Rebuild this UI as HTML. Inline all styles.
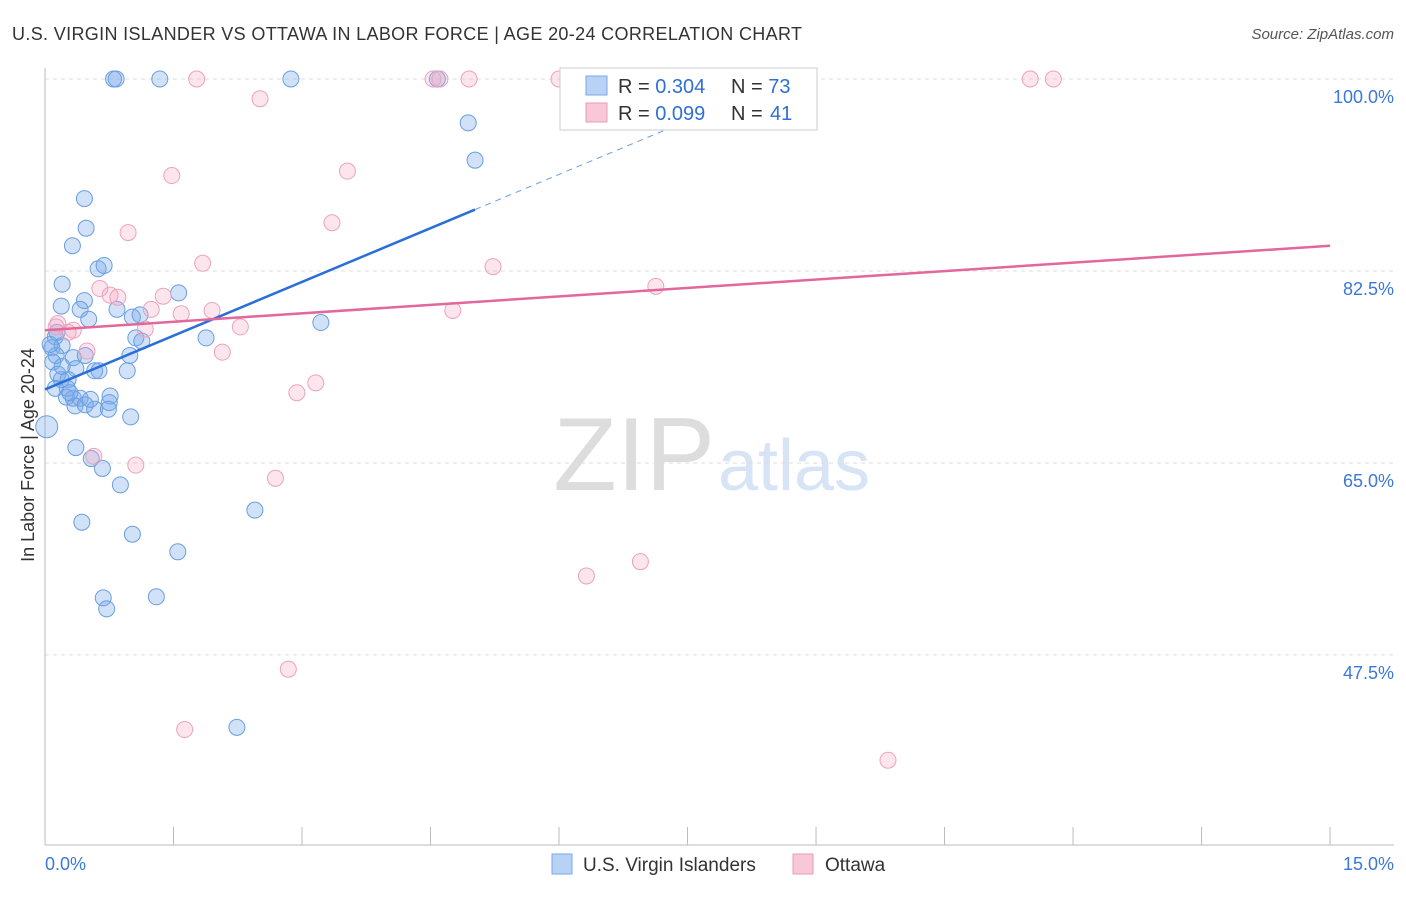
<!DOCTYPE html>
<html><head><meta charset="utf-8"><style>
body{margin:0;background:#fff;font-family:"Liberation Sans",sans-serif;}
svg text{font-family:"Liberation Sans",sans-serif;}
</style></head><body>
<svg id="c" width="1406" height="892">
<text x="12" y="40" font-size="18" fill="#333" textLength="790">U.S. VIRGIN ISLANDER VS OTTAWA IN LABOR FORCE | AGE 20-24 CORRELATION CHART</text>
<text x="1394" y="39" font-size="15" fill="#555" font-style="italic" text-anchor="end">Source: ZipAtlas.com</text>
<text x="715" y="490" font-size="104" fill="#ddd" text-anchor="end" font-family="Liberation Serif">ZIP</text>
<text x="718" y="490" font-size="72" fill="#d6e4f5">atlas</text>
<text transform="translate(34,455) rotate(-90)" font-size="18" fill="#333" text-anchor="middle">In Labor Force | Age 20-24</text>
<g id="grid"></g><g id="pts"></g><g id="lines"></g>
<rect x="560" y="68" width="257" height="62" fill="#fff" stroke="#ccc"/>
<rect x="586" y="76" width="21" height="19" fill="#b7d2f5" stroke="#7aa8e6"/>
<rect x="586" y="103" width="21" height="19" fill="#f8c8d8" stroke="#ea99b5"/>
<text x="618" y="93" font-size="20" fill="#333">R = <tspan fill="#2f6fd6">0.304</tspan></text>
<text x="731" y="93" font-size="20" fill="#333">N = <tspan fill="#2f6fd6">73</tspan></text>
<text x="618" y="120" font-size="20" fill="#333">R = <tspan fill="#2f6fd6">0.099</tspan></text>
<text x="731" y="120" font-size="20" fill="#333">N = <tspan fill="#2f6fd6" x="770">41</tspan></text>
<rect x="552" y="854" width="20" height="20" fill="#b7d2f5" stroke="#7aa8e6"/>
<text x="583" y="871" font-size="19" fill="#333">U.S. Virgin Islanders</text>
<rect x="793" y="854" width="20" height="20" fill="#f8c8d8" stroke="#ea99b5"/>
<text x="825" y="871" font-size="19" fill="#333">Ottawa</text>
<text x="45" y="870" font-size="18" fill="#3b78d8">0.0%</text>
<text x="1394" y="870" font-size="18" fill="#3b78d8" text-anchor="end">15.0%</text>
</svg>
<script>
const yTicks=[100,82.5,65,47.5];
const blueX=[0.8,0.83,1.34,2.87,4.58,4.94,5.02,0.46,0.48,0.32,0.62,0.69,0.2,1.56,0.19,0.46,0.41,0.51,0.84,1.02,1.11,3.22,1.88,1.06,1.13,0.12,0.08,0.2,0.13,0.33,0.47,0.99,0.09,0.36,0.58,0.63,0.96,0.15,0.19,0.27,0.12,0.26,0.25,0.33,0.41,0.76,0.75,0.35,0.47,0.58,0.74,1.0,0.02,0.36,0.54,0.67,0.88,0.43,1.02,2.45,1.55,0.68,0.72,1.3,2.24,0.14,0.06,0.2,0.29,0.53];
const blueY=[100,100,100,100,100,96,92.6,89.1,86.4,84.8,82.7,83,81.3,80.5,79.3,79.8,79,78.1,79,78.3,78.5,77.8,76.4,76.4,76.1,76.5,75.5,75.7,74.8,74.6,74.8,74.8,74.2,73.6,73.4,73.4,73.4,73.1,72.6,72.6,71.8,71.8,71,70.9,70.9,71.1,70.5,70.2,70.3,69.9,69.9,69.2,68.3,66.4,65.4,64.5,63,59.6,58.5,60.7,56.9,52.7,51.7,52.8,40.9,76.9,75.8,73.8,71.4,70.8];
const pinkX=[1.77,4.53,4.61,4.95,6.0,11.5,11.77,2.51,1.48,3.53,0.97,3.35,1.84,5.23,7.13,0.64,0.76,0.85,1.38,1.24,1.59,1.95,4.76,0.15,0.33,1.17,2.28,0.27,0.13,0.49,2.07,3.16,2.94,0.57,1.06,2.69,6.32,6.95,2.84,1.63,9.84];
const pinkY=[100,100,100,100,100,100,100,98.2,91.2,91.6,86,86.9,83.2,82.9,81.1,80.9,80.3,80.1,80.2,79,78.6,78.9,78.9,77.7,77.1,77.2,77.4,76.9,77.4,75.2,75.1,72.3,71.4,65.6,64.8,63.6,54.7,56,46.2,40.7,37.9];
const blueFit=[71.7,88.1], blueFitX=[0,5.02], blueDashX=[5.02,7.65];
const pinkFit=[77.1,84.8], pinkFitX=[0,15];
const NS="http://www.w3.org/2000/svg";
const X=v=>45+v*85.67, Y=v=>79+(100-v)*10.97;
function mk(t,a,p){const e=document.createElementNS(NS,t);for(const k in a)e.setAttribute(k,a[k]);p.appendChild(e);return e;}
const g=document.getElementById('grid');
yTicks.forEach(t=>{const l=mk('line',{x1:45,x2:1394,y1:Y(t),y2:Y(t),stroke:'#ddd','stroke-dasharray':'4 4'},g);


const tx=mk('text',{x:1394,y:Y(t)+24,'font-size':18,fill:'#3b78d8','text-anchor':'end'},g);tx.textContent=t.toFixed(1)+'%';

});
mk('line',{x1:45,x2:45,y1:68,y2:845,stroke:'#bbb'},g);
mk('line',{x1:45,x2:1394,y1:845,y2:845,stroke:'#bbb'},g);
for(let i=0;i<=10;i++){const xx=X(i*1.5);const t=mk('line',{x1:xx,x2:xx,y1:827,y2:845,stroke:'#bbb'},g);

}
const p=document.getElementById('pts');
blueX.forEach((v,i)=>{const c=mk('circle',{cx:X(v),cy:Y(blueY[i]),r:i==52?11:8,fill:'rgba(120,170,235,0.35)',stroke:'#6a9fe0','stroke-width':1},p);

});
pinkX.forEach((v,i)=>{const c=mk('circle',{cx:X(v),cy:Y(pinkY[i]),r:8,fill:'rgba(245,170,195,0.3)',stroke:'#eba3bd','stroke-width':1},p);

});
const L=document.getElementById('lines');
const slope=(blueFit[1]-blueFit[0])/(blueFitX[1]-blueFitX[0]);
let a=mk('line',{x1:X(blueFitX[0]),y1:Y(blueFit[0]),x2:X(blueFitX[1]),y2:Y(blueFit[1]),stroke:'#2a6fd8','stroke-width':2.5},L);


a=mk('line',{x1:X(blueDashX[0]),y1:Y(blueFit[0]+slope*blueDashX[0]),x2:X(blueDashX[1]),y2:Y(blueFit[0]+slope*blueDashX[1]),stroke:'#6a9fe0','stroke-width':1,'stroke-dasharray':'6 5'},L);


a=mk('line',{x1:X(pinkFitX[0]),y1:Y(pinkFit[0]),x2:X(pinkFitX[1]),y2:Y(pinkFit[1]),stroke:'#e2679a','stroke-width':2.5},L);


</script>
</body></html>
